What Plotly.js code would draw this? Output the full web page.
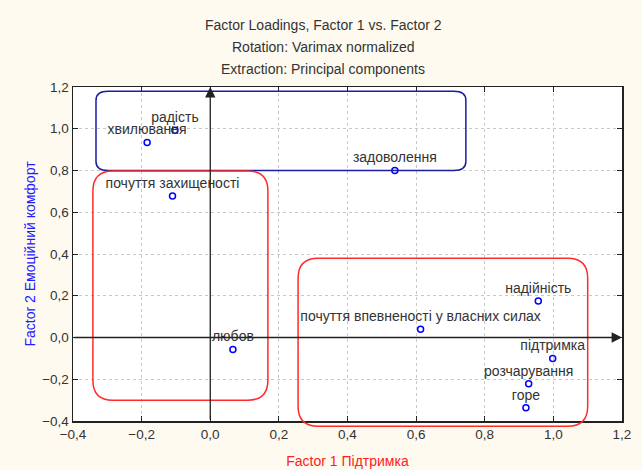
<!DOCTYPE html>
<html>
<head>
<meta charset="utf-8">
<script src="https://cdn.plot.ly/plotly-3.0.1.min.js"></script>
<style>
html,body{margin:0;padding:0;background:#FEFAF0;}
#chart{width:642px;height:470px;}
</style>
</head>
<body>
<div id="chart"></div>
<script>
// Variable names (labels) and factor loadings
var names = ["хвилювання", "радість", "почуття захищеності", "задоволення", "любов",
             "надійність", "почуття впевненості у власних силах", "підтримка", "розчарування", "горе"];
var factor1 = [-0.184, -0.103, -0.110, 0.538, 0.066, 0.956, 0.613, 0.998, 0.928, 0.920];
var factor2 = [0.934, 0.993, 0.678, 0.800, -0.057, 0.175, 0.039, -0.100, -0.222, -0.337];

var titleLines = ["Factor Loadings, Factor 1 vs. Factor 2",
                  "Rotation: Varimax normalized",
                  "Extraction: Principal components"];
var xTitle = "Factor 1 Підтримка";
var yTitle = "Factor 2 Емоційний комфорт";
var xTicks = [-0.4, -0.2, 0, 0.2, 0.4, 0.6, 0.8, 1.0, 1.2];
var yTicks = [-0.4, -0.2, 0, 0.2, 0.4, 0.6, 0.8, 1.0, 1.2];

var xRange = [-0.4, 1.2], yRange = [-0.4, 1.2];

// Grouping boxes (data units)
var boxes = [
  {x0: -0.333, x1: 0.745, y0: 0.800, y1: 1.180, color: "#1c1ca0", rx: 12, ry: 9},
  {x0: -0.342, x1: 0.168, y0: -0.300, y1: 0.798, color: "#ff2a2a", rx: 20, ry: 20},
  {x0: 0.256, x1: 1.100, y0: -0.425, y1: 0.380, color: "#ff2a2a", rx: 20, ry: 20}
];

var FONT = "Liberation Sans, Arial, sans-serif";
var L = 73, R = 20, T = 87, B = 49, W = 642, H = 470;
var pw = W - L - R, ph = H - T - B;
function px(v){ return (v - xRange[0]) / (xRange[1] - xRange[0]); }
function py(v){ return (v - yRange[0]) / (yRange[1] - yRange[0]); }

function roundRect(b){
  var x0 = px(b.x0), x1 = px(b.x1), y0 = py(b.y0), y1 = py(b.y1);
  var rx = b.rx / pw, ry = b.ry / ph;
  return "M " + (x0 + rx) + " " + y1 +
    " L " + (x1 - rx) + " " + y1 +
    " Q " + x1 + " " + y1 + " " + x1 + " " + (y1 - ry) +
    " L " + x1 + " " + (y0 + ry) +
    " Q " + x1 + " " + y0 + " " + (x1 - rx) + " " + y0 +
    " L " + (x0 + rx) + " " + y0 +
    " Q " + x0 + " " + y0 + " " + x0 + " " + (y0 + ry) +
    " L " + x0 + " " + (y1 - ry) +
    " Q " + x0 + " " + y1 + " " + (x0 + rx) + " " + y1 + " Z";
}

var shapes = boxes.map(function(b){
  return {type: "path", xref: "paper", yref: "paper", path: roundRect(b),
          line: {color: b.color, width: 1.5}, layer: "above"};
});

var annotations = [];
titleLines.forEach(function(t, i){
  annotations.push({text: t, xref: "paper", yref: "paper", x: (323 - L) / pw,
    y: 1 + (T - (25 + 22 * i)) / ph, xanchor: "center", yanchor: "middle",
    showarrow: false, font: {family: FONT, size: 14, color: "#333333"}});
});
// axis arrows through the origin
annotations.push({x: xRange[1], y: 0, ax: xRange[0], ay: 0, xref: "x", yref: "y", axref: "x", ayref: "y",
  text: "", showarrow: true, arrowhead: 2, arrowsize: 1.6, arrowwidth: 1.3, arrowcolor: "#222222", standoff: 0});
annotations.push({x: 0, y: yRange[1], ax: 0, ay: yRange[0], xref: "x", yref: "y", axref: "x", ayref: "y",
  text: "", showarrow: true, arrowhead: 2, arrowsize: 1.6, arrowwidth: 1.3, arrowcolor: "#222222", standoff: 0});

var trace = {
  type: "scatter", mode: "markers+text",
  x: factor1, y: factor2, text: names,
  textposition: "top center",
  textfont: {family: FONT, size: 14, color: "#333333"},
  marker: {symbol: "circle-open", size: 6, color: "#0000ff", line: {width: 1.5, color: "#0000ff"}},
  cliponaxis: false,
  hoverinfo: "none"
};

var axisCommon = {
  showgrid: true, gridcolor: "#c8c8c8", griddash: "dot", gridwidth: 1,
  zeroline: false, showline: true, mirror: "ticks", linecolor: "#222222", linewidth: 1.5,
  ticks: "inside", ticklen: 5, tickwidth: 1, tickcolor: "#222222",
  tickfont: {family: FONT, size: 13.5, color: "#333333"},
  tickformat: ".1f", fixedrange: true
};

var layout = {
  width: W, height: H,
  margin: {l: L, r: R, t: T, b: B},
  paper_bgcolor: "#FEFAF0", plot_bgcolor: "#ffffff",
  separators: ",.",
  showlegend: false,
  xaxis: Object.assign({}, axisCommon, {range: xRange, tickvals: xTicks,
    title: {text: xTitle, standoff: 15, font: {family: FONT, size: 14, color: "#ff2020"}}}),
  yaxis: Object.assign({}, axisCommon, {range: yRange, tickvals: yTicks,
    title: {text: yTitle, standoff: 3, font: {family: FONT, size: 14, color: "#2020ff"}}}),
  shapes: shapes,
  annotations: annotations
};

Plotly.newPlot("chart", [trace], layout, {displayModeBar: false, staticPlot: true});
</script>
</body>
</html>
